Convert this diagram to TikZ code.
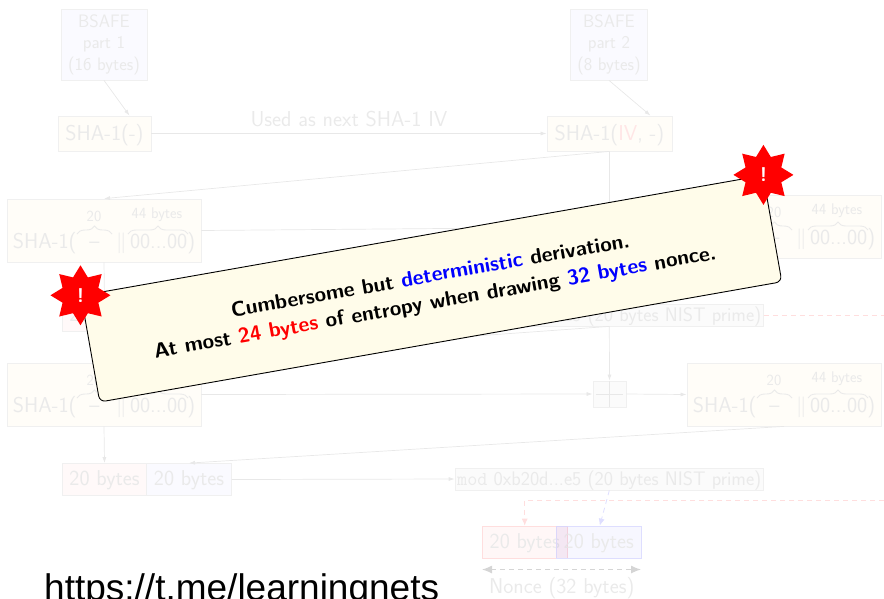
\documentclass[tikz,border=0pt]{standalone}
\usepackage{fontspec}
\usetikzlibrary{arrows.meta,shapes.geometric,calc,decorations.pathreplacing}
\newfontfamily\urlfont{Liberation Sans}
\definecolor{tx}{HTML}{EAEAEA}
\definecolor{ln}{HTML}{E8E8E8}
\definecolor{bd}{HTML}{F0F0F0}
\definecolor{yf}{HTML}{FFFDF8}
\definecolor{bf}{HTML}{FAFAFF}
\definecolor{rf}{HTML}{FFF9F9}
\definecolor{gf}{HTML}{FBFBFB}
\definecolor{ivc}{HTML}{FFE6E6}
\definecolor{rd}{HTML}{FFDEDE}
\definecolor{bl}{HTML}{DEDEFF}
\definecolor{note}{HTML}{FFFCEA}
\tikzset{
  box/.style={rectangle,draw=bd,line width=.8pt,inner sep=0pt,text=tx,font=\sffamily\fontsize{21.5}{24}\selectfont,align=center},
  ybox/.style={box,fill=yf},
  bbox/.style={box,fill=bf},
  rbox/.style={box,fill=rf},
  gbox/.style={box,fill=gf},
  bigbox/.style={ybox,minimum width=194pt,minimum height=63pt},
  bigtext/.style={inner sep=0pt,text=tx,font=\sffamily\fontsize{21.5}{24}\selectfont},
  smalltext/.style={inner sep=0pt,text=tx,font=\sffamily\fontsize{15.5}{18}\selectfont},
  bracep/.style={draw=tx,line width=.9pt,decorate,decoration={brace,amplitude=8pt}},
  bytes/.style={minimum width=85pt,minimum height=32pt,text height=15pt,text depth=3pt},
  shabox/.style={ybox,minimum height=35pt,text height=18pt,text depth=3.4pt},
  modbox/.style={gbox,minimum width=308.5pt,minimum height=22pt,text height=16pt,text depth=2.5pt,font=\sffamily\fontsize{19.6}{20}\selectfont},
  conn/.style={draw=ln,line width=.7pt,-{Latex[length=6pt,width=4pt]}},
  plain/.style={draw=ln,line width=.7pt},
  reddash/.style={draw=rd,line width=.8pt,dash pattern=on 5pt off 4pt},
  bludash/.style={draw=bl,line width=.8pt,dash pattern=on 5pt off 4pt},
  burst/.style={star,star points=8,star point ratio=1.55,fill=red,inner sep=0pt,minimum size=60pt,text=white,font=\sffamily\bfseries\fontsize{20}{20}\selectfont},
}
\newcommand{\bigsha}[2]{%
  \node[bigbox] (#1) at (#2) {};
  \node[bigtext] (#1t) at ([yshift=-12.5pt]#1.center) {SHA-1(\hbox to 36pt{\hfil --\hfil}\,$\|$\,00...00)};
  \node[smalltext] (#1k) at ([xshift=-10pt,yshift=14.5pt]#1.center) {20};
  \node[smalltext] (#1m) at ([xshift=53pt,yshift=16pt]#1.center) {44 bytes};
  \draw[bracep] ([xshift=-27pt,yshift=-3.5pt]#1.center) -- ([xshift=8pt,yshift=-3.5pt]#1.center);
  \draw[bracep] ([xshift=24pt,yshift=-3.5pt]#1.center) -- ([xshift=84pt,yshift=-3.5pt]#1.center);
}
\begin{document}
\begin{tikzpicture}[x=1pt,y=-1pt]
\path[use as bounding box,clip] (0,0) rectangle (884,598);
% top row
\node[bbox,minimum width=86pt,minimum height=71pt,font=\sffamily\fontsize{18}{21.5}\selectfont] (bs1) at (104,44.5) {BSAFE\\part 1\\(16 bytes)};
\node[bbox,minimum width=77pt,minimum height=71pt,font=\sffamily\fontsize{18}{21.5}\selectfont] (bs2) at (609,44.5) {BSAFE\\part 2\\(8 bytes)};
\node[shabox,minimum width=93pt] (sha1) at (104.5,133.5) {SHA-1(-)};
\node[shabox,minimum width=125pt] (sha2) at (609.5,133.5) {SHA-1({\color{ivc}IV}, -)};
\node[text=tx,font=\sffamily\fontsize{21.6}{24}\selectfont,inner sep=0pt] (ivlabel) at (349,119) {Used as next SHA-1 IV};
% big boxes
\bigsha{a}{104,230.5}
\bigsha{c}{784,226.5}
\bigsha{b}{104,394.5}
\bigsha{d}{784,394.5}
% row 2
\node[rbox,bytes] (r1) at (104.5,315) {20 bytes};
\node[modbox] (m1) at (609.3,315) {{\ttfamily mod} 0xb20d...e5 (20 bytes NIST prime)};
% plus
\node[gbox,minimum width=33pt,minimum height=26pt] (p) at (609.5,394) {};
\draw[draw=ln,line width=.8pt] (p.north) -- (p.south);
\draw[draw=ln,line width=1pt] ([xshift=3pt]p.west) -- ([xshift=-3pt]p.east);
% row 4
\node[rbox,bytes] (r2) at (104.5,479.5) {20 bytes};
\node[bbox,bytes] (b2) at (189,479.5) {20 bytes};
\node[modbox] (m2) at (609.3,479) {{\ttfamily mod} 0xb20d...e5 (20 bytes NIST prime)};
% nonce
\node[box,bytes,draw=rd,fill=red,fill opacity=.03,text opacity=1,minimum width=85.5pt] (n1) at (524.7,542) {20 bytes};
\node[box,bytes,draw=bl,fill=blue,fill opacity=.03,text opacity=1] (n2) at (598.8,542) {20 bytes};
\fill[magenta!60!blue,opacity=.04] (n2.north west) rectangle (n1.south east);
\node[text=tx,font=\sffamily\fontsize{21.5}{24}\selectfont,inner sep=0pt] (nl) at (561.7,588.5) {Nonce (32 bytes)};
% connectors
\draw[conn] (bs1.south) -- ([xshift=25pt]sha1.north);
\draw[conn] (bs2.south) -- ([xshift=41pt]sha2.north);
\draw[conn] (sha1.east) -- (sha2.west);
\draw[conn] (sha2.south) -- (a.north);
\draw[plain] (sha2.south) -- (m1.north);
\draw[plain] (a.east) -- (c.west);
\draw[plain] (a.south) -- (r1.north);
\draw[conn] (m1.south) -- (p.north);
\draw[plain] (m1.south) -- (b.north);
\draw[conn] (b.east) -- (p.west);
\draw[conn] (p.east) -- (d.west);
\draw[conn] (b.south) -- (r2.north);
\draw[conn] (d.south) -- (b2.north);
\draw[conn] (b2.east) -- (m2.west);
% dashed
\coordinate (e1) at (884,315);
\coordinate (e2) at (884,500);
\coordinate (e3) at (524.7,500);
\draw[reddash] (m1.east) -- (e1);
\draw[reddash,-{Latex[length=7pt,width=6pt]}] (e2) -- (e3) -- (n1.north);
\draw[bludash,-{Latex[length=7pt,width=6pt]}] (m2.south) -- ([xshift=1pt]n2.north);
\coordinate (dl) at (482,569.5);
\coordinate (dr) at (641,569.5);
\draw[draw=ln!92!black,line width=1.2pt,dash pattern=on 5pt off 4pt,{Latex[length=10pt,width=8pt]}-{Latex[length=10pt,width=8pt]}] (dl) -- (dr);
% url
\node[anchor=base west,inner sep=0pt,font=\urlfont\fontsize{37}{40}\selectfont,text=black] (url) at (44,600) {https://t.me/learningnets};
% callout
\node[rotate=10,draw=black,line width=.9pt,rounded corners=6pt,fill=note,minimum width=692.6pt,minimum height=108pt,inner sep=0pt] (call) at (431.4,288.7) {};
\node[rotate=10,inner sep=0pt,align=center,font=\sffamily\bfseries\fontsize{21}{27}\selectfont] (callt) at ([xshift=1.5pt,yshift=-1.5pt]call.center) {Cumbersome but {\color{blue}deterministic} derivation.\\At most {\color{red}24 bytes} of entropy when drawing {\color{blue}32 bytes} nonce.};
\node[burst] (s1) at (call.north west) {!};
\node[burst] (s2) at (call.north east) {!};
\end{tikzpicture}
\end{document}
